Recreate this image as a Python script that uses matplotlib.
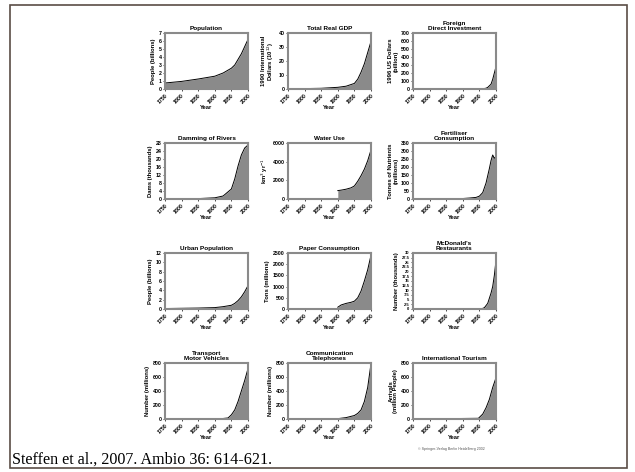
import matplotlib
matplotlib.use("Agg")
import matplotlib.pyplot as plt
from matplotlib.patches import Rectangle

plt.rcParams['font.family'] = ['Liberation Sans', 'DejaVu Sans']

# ---- data ----
titles = ["Population", "Total Real GDP", "Foreign\nDirect Investment",
          "Damming of Rivers", "Water Use", "Fertiliser\nConsumption",
          "Urban Population", "Paper Consumption", "McDonald's\nRestaurants",
          "Transport\nMotor Vehicles", "Communication\nTelephones", "International Tourism"]
ylabels = ["People (billions)", "1990 International\nDollars (10$^{12}$)", "1996 US Dollars\n(billion)",
           "Dams (thousands)", "km$^3$ yr$^{-1}$", "Tonnes of Nutrients\n(millions)",
           "People (billions)", "Tons (millions)", "Number (thousands)",
           "Number (millions)", "Number (millions)", "Arrivals\n(million People)"]
ylims = [7, 40, 700, 28, 6000, 350, 12, 2500, 30, 800, 800, 800]
ysteps = [1, 10, 100, 4, 2000, 50, 2, 500, 2.5, 200, 200, 200]

pop_years = [1750, 1800, 1850, 1900, 1925, 1950, 1960, 1970, 1980, 1990, 2000]
pop_vals = [0.75, 0.95, 1.25, 1.6, 2.0, 2.6, 3.0, 3.7, 4.4, 5.3, 6.2]
gdp_years = [1750, 1800, 1850, 1900, 1925, 1950, 1960, 1970, 1980, 1990, 2000]
gdp_vals = [0.2, 0.3, 0.5, 1.2, 2.0, 4.0, 7.0, 12.0, 18.0, 26.0, 34.0]
fdi_years = [1750, 1950, 1960, 1970, 1975, 1980, 1985, 1990, 1995, 2000]
fdi_vals = [0, 0, 3, 10, 20, 40, 60, 120, 200, 280]
dam_years = [1750, 1850, 1900, 1925, 1950, 1960, 1970, 1980, 1990, 2000]
dam_vals = [0, 0.2, 0.6, 1.5, 5.0, 10.0, 16.5, 22.0, 25.5, 27.0]
water_years = [1900, 1910, 1925, 1940, 1950, 1960, 1970, 1980, 1990, 2000]
water_vals = [900, 950, 1050, 1200, 1400, 1900, 2500, 3200, 4100, 5250]
fert_years = [1750, 1900, 1920, 1940, 1950, 1960, 1970, 1980, 1985, 1990, 1995, 2000]
fert_vals = [0, 3, 6, 10, 18, 40, 100, 190, 240, 275, 255, 265]
urban_years = [1750, 1800, 1850, 1900, 1925, 1950, 1960, 1970, 1980, 1990, 2000]
urban_vals = [0.1, 0.15, 0.2, 0.3, 0.5, 0.8, 1.2, 1.8, 2.6, 3.7, 5.0]
paper_years = [1900, 1910, 1925, 1940, 1950, 1960, 1970, 1980, 1990, 2000]
paper_vals = [80, 180, 250, 300, 350, 500, 800, 1250, 1750, 2400]
mcd_years = [1750, 1955, 1965, 1975, 1985, 1990, 1995, 2000]
mcd_vals = [0, 0, 0.7, 3.0, 8.5, 12.0, 18.0, 26.0]
car_years = [1750, 1900, 1920, 1940, 1950, 1960, 1970, 1980, 1990, 2000]
car_vals = [0, 0, 5, 15, 60, 130, 250, 400, 550, 720]
tel_years = [1750, 1900, 1925, 1950, 1960, 1970, 1980, 1990, 2000]
tel_vals = [0, 5, 20, 50, 80, 130, 250, 450, 790]
tour_years = [1750, 1947, 1960, 1970, 1980, 1990, 2000]
tour_vals = [0, 10, 70, 160, 280, 450, 590]

series = [(pop_years, pop_vals), (gdp_years, gdp_vals), (fdi_years, fdi_vals),
          (dam_years, dam_vals), (water_years, water_vals), (fert_years, fert_vals),
          (urban_years, urban_vals), (paper_years, paper_vals), (mcd_years, mcd_vals),
          (car_years, car_vals), (tel_years, tel_vals), (tour_years, tour_vals)]
xticks = [1750, 1800, 1850, 1900, 1950, 2000]

W, H = 635, 472
fig = plt.figure(figsize=(W / 100, H / 100), dpi=100)
fig.patch.set_facecolor('white')

# outer frame
fig.patches.append(Rectangle((10 / W, 1 - 468 / H), 617 / W, 463 / H,
                             transform=fig.transFigure, fill=False,
                             edgecolor='#5a4d45', linewidth=1.2))

col_left = [165, 288, 413]
row_top = [33, 143, 253, 363]
aw, ah = 83, 56

def fmt(v):
    if abs(v - round(v)) < 1e-9:
        return str(int(round(v)))
    return str(v)

for i in range(12):
    r, c = divmod(i, 3)
    x0 = col_left[c] / W
    y0 = 1 - (row_top[r] + ah) / H
    ax = fig.add_axes([x0, y0, aw / W, ah / H])
    yrs, vals = series[i]
    ax.fill_between(yrs, 0, vals, color='#8a8a8a', linewidth=0)
    ax.plot(yrs, vals, color='black', linewidth=0.7)
    ax.set_xlim(1750, 2000)
    ax.set_ylim(0, ylims[i])
    ax.set_xticks(xticks)
    ax.set_xticklabels([str(t) for t in xticks], rotation=45, ha='right',
                       rotation_mode='anchor', fontsize=3.8, fontweight='bold')
    n = int(round(ylims[i] / ysteps[i]))
    yt = [k * ysteps[i] for k in range(n + 1)]
    ax.set_yticks(yt)
    yfs = 3.0 if n > 10 else 3.8
    ax.set_yticklabels([fmt(v) for v in yt], fontsize=yfs, fontweight='bold')
    ax.tick_params(length=1.5, width=0.5, pad=1)
    for s in ax.spines.values():
        s.set_color('#8a8a8a')
        s.set_linewidth(1.5)
    ax.set_title(titles[i], fontsize=4.6, fontweight='bold', pad=2, linespacing=1.0)
    ax.set_ylabel(ylabels[i], fontsize=4.2, fontweight='bold', labelpad=1.5, linespacing=1.0)
    ax.set_xlabel("Year", fontsize=4.2, fontweight='bold', labelpad=0.5)

fig.text(12 / W, 1 - 460 / H, "Steffen et al., 2007. Ambio 36: 614-621.",
         fontsize=11.6, family=['Liberation Serif', 'DejaVu Serif'], va='center', ha='left')
fig.text(451 / W, 1 - 449 / H, "\u00a9 Springer-Verlag Berlin Heidelberg 2002",
         fontsize=2.6, color='#555555', ha='center', va='center')

fig.savefig("out.png", dpi=100)
